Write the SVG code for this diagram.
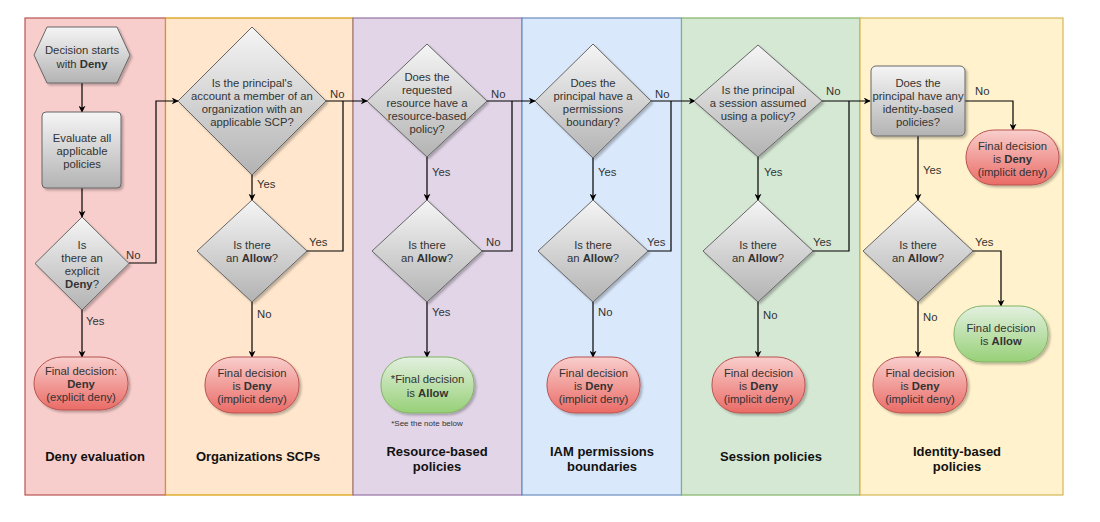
<svg xmlns="http://www.w3.org/2000/svg" width="1100" height="522" viewBox="0 0 1100 522">
  <defs>
    <linearGradient id="gGray" x1="0" y1="0" x2="0" y2="1">
      <stop offset="0" stop-color="#f5f5f5"/>
      <stop offset="1" stop-color="#b3b3b3"/>
    </linearGradient>
    <linearGradient id="gRed" x1="0" y1="0" x2="0" y2="1">
      <stop offset="0" stop-color="#f8cecc"/>
      <stop offset="1" stop-color="#ea6b66"/>
    </linearGradient>
    <linearGradient id="gGreen" x1="0" y1="0" x2="0" y2="1">
      <stop offset="0" stop-color="#e3f0e0"/>
      <stop offset="1" stop-color="#97d077"/>
    </linearGradient>
    <filter id="shadow" x="-20%" y="-20%" width="140%" height="140%">
      <feDropShadow dx="2" dy="2" stdDeviation="1.2" flood-color="#000" flood-opacity="0.25"/>
    </filter>
    <marker id="arrow" viewBox="0 0 10 10" refX="9" refY="5" markerWidth="7" markerHeight="7" markerUnits="userSpaceOnUse" orient="auto">
      <path d="M0,0 L10,5 L0,10 L3,5 Z" fill="#000"/>
    </marker>
  </defs>
  <style>
    text { font-family: "Liberation Sans", Arial, sans-serif; }
    .lane { stroke-width: 1.2; }
    .gray { fill: url(#gGray); stroke: #666666; stroke-width: 1; filter: url(#shadow); }
    .red { fill: url(#gRed); stroke: #b85450; stroke-width: 1; filter: url(#shadow); }
    .green { fill: url(#gGreen); stroke: #82b366; stroke-width: 1; filter: url(#shadow); }
    .t { font-size: 11.3px; fill: #333333; text-anchor: middle; }
    .b { font-weight: bold; }
    .lbl { font-size: 11.3px; fill: #333333; }
    .title { font-size: 13px; font-weight: bold; fill: #111111; text-anchor: middle; }
    .note { font-size: 8px; fill: #333333; text-anchor: middle; }
    .edge { fill: none; stroke: #000; stroke-width: 1.2; }
  </style>

  <rect x="0" y="0" width="1100" height="522" fill="#ffffff"/>

  <!-- swimlanes -->
  <g id="lanes">
    <rect class="lane" x="25" y="18" width="140.5" height="477" fill="#f8cecc" stroke="#b85450"/>
    <rect class="lane" x="165.5" y="18" width="187.5" height="477" fill="#ffe6cc" stroke="#d79b00"/>
    <rect class="lane" x="353" y="18" width="169" height="477" fill="#e1d5e7" stroke="#9673a6"/>
    <rect class="lane" x="522" y="18" width="159.5" height="477" fill="#dae8fc" stroke="#6c8ebf"/>
    <rect class="lane" x="681.5" y="18" width="178.5" height="477" fill="#d5e8d4" stroke="#82b366"/>
    <rect class="lane" x="860" y="18" width="203" height="477" fill="#fff2cc" stroke="#d6b656"/>
    <text class="title" x="95" y="461">Deny evaluation</text>
    <text class="title" x="258" y="461">Organizations SCPs</text>
    <text class="title" x="437" y="456">Resource-based</text>
    <text class="title" x="437" y="471">policies</text>
    <text class="title" x="602" y="456">IAM permissions</text>
    <text class="title" x="602" y="471">boundaries</text>
    <text class="title" x="771" y="461">Session policies</text>
    <text class="title" x="957" y="456">Identity-based</text>
    <text class="title" x="957" y="471">policies</text>
  </g>

  <!-- connectors -->
  <g id="connectors">
    <path class="edge" d="M82,83 L82,112" marker-end="url(#arrow)"/>
    <path class="edge" d="M82,188 L82,217" marker-end="url(#arrow)"/>
    <path class="edge" d="M129,263 L156,263 L156,101 L178,101" marker-end="url(#arrow)"/>
    <path class="edge" d="M82,310 L82,357" marker-end="url(#arrow)"/>

    <path class="edge" d="M326,101 L367,101" marker-end="url(#arrow)"/>
    <path class="edge" d="M252,175 L252,200" marker-end="url(#arrow)"/>
    <path class="edge" d="M307,251 L343,251 L343,101"/>
    <path class="edge" d="M252,302 L252,357" marker-end="url(#arrow)"/>

    <path class="edge" d="M487,101 L535,101" marker-end="url(#arrow)"/>
    <path class="edge" d="M427,157 L427,200" marker-end="url(#arrow)"/>
    <path class="edge" d="M482,251 L512,251 L512,101"/>
    <path class="edge" d="M427,302 L427,357" marker-end="url(#arrow)"/>

    <path class="edge" d="M651,101 L695,101" marker-end="url(#arrow)"/>
    <path class="edge" d="M593,158 L593,200" marker-end="url(#arrow)"/>
    <path class="edge" d="M648,251 L671,251 L671,101"/>
    <path class="edge" d="M593,302 L593,357" marker-end="url(#arrow)"/>

    <path class="edge" d="M822,101 L870,101" marker-end="url(#arrow)"/>
    <path class="edge" d="M758,157 L758,200" marker-end="url(#arrow)"/>
    <path class="edge" d="M813,251 L849,251 L849,101"/>
    <path class="edge" d="M758,302 L758,357" marker-end="url(#arrow)"/>

    <path class="edge" d="M965,101 L1013,101 L1013,130" marker-end="url(#arrow)"/>
    <path class="edge" d="M918,136 L918,200" marker-end="url(#arrow)"/>
    <path class="edge" d="M973,251 L1001,251 L1001,306" marker-end="url(#arrow)"/>
    <path class="edge" d="M918,302 L918,357" marker-end="url(#arrow)"/>

    <text class="lbl" x="126" y="259">No</text>
    <text class="lbl" x="86" y="325">Yes</text>
    <text class="lbl" x="330" y="98">No</text>
    <text class="lbl" x="257" y="188">Yes</text>
    <text class="lbl" x="309" y="246">Yes</text>
    <text class="lbl" x="257" y="318">No</text>
    <text class="lbl" x="491" y="98">No</text>
    <text class="lbl" x="432" y="176">Yes</text>
    <text class="lbl" x="486" y="246">No</text>
    <text class="lbl" x="432" y="316">Yes</text>
    <text class="lbl" x="655" y="98">No</text>
    <text class="lbl" x="598" y="176">Yes</text>
    <text class="lbl" x="647" y="246">Yes</text>
    <text class="lbl" x="598" y="316">No</text>
    <text class="lbl" x="826" y="95">No</text>
    <text class="lbl" x="764" y="176">Yes</text>
    <text class="lbl" x="813" y="246">Yes</text>
    <text class="lbl" x="763" y="319">No</text>
    <text class="lbl" x="975" y="95">No</text>
    <text class="lbl" x="923" y="174">Yes</text>
    <text class="lbl" x="975" y="246">Yes</text>
    <text class="lbl" x="923" y="321">No</text>
  </g>

  <!-- Deny evaluation -->
  <g id="start">
    <polygon class="gray" points="34,55 47,27 117,27 130,55 117,83 47,83"/>
    <text class="t" x="82" y="54">Decision starts</text>
    <text class="t" x="82" y="68">with <tspan class="b">Deny</tspan></text>
  </g>
  <g id="evaluate">
    <rect class="gray" x="42" y="112" width="79" height="76" rx="4"/>
    <text class="t" x="82" y="142">Evaluate all</text>
    <text class="t" x="82" y="155">applicable</text>
    <text class="t" x="82" y="168">policies</text>
  </g>
  <g id="explicit-deny">
    <polygon class="gray" points="82,217 129,263.5 82,310 35,263.5"/>
    <text class="t" x="82" y="249">Is</text>
    <text class="t" x="82" y="262">there an</text>
    <text class="t" x="82" y="275">explicit</text>
    <text class="t" x="82" y="288"><tspan class="b">Deny</tspan>?</text>
  </g>
  <g id="final-explicit-deny">
    <rect class="red" x="34" y="357" width="94" height="53" rx="28" ry="26"/>
    <text class="t" x="81" y="375">Final decision:</text>
    <text class="t b" x="81" y="388">Deny</text>
    <text class="t" x="81" y="401">(explicit deny)</text>
  </g>

  <!-- Organizations SCPs -->
  <g id="scp">
    <polygon class="gray" points="252,27 326,101 252,175 178,101"/>
    <text class="t" x="252" y="87">Is the principal's</text>
    <text class="t" x="252" y="100">account a member of an</text>
    <text class="t" x="252" y="113">organization with an</text>
    <text class="t" x="252" y="126">applicable SCP?</text>
  </g>
  <g id="scp-allow">
    <polygon class="gray" points="252,200 307,251 252,302 197,251"/>
    <text class="t" x="252" y="249">Is there</text>
    <text class="t" x="252" y="262">an <tspan class="b">Allow</tspan>?</text>
  </g>
  <g id="scp-deny">
    <rect class="red" x="205" y="357" width="94" height="56" rx="28" ry="27"/>
    <text class="t" x="252" y="377">Final decision</text>
    <text class="t" x="252" y="390">is <tspan class="b">Deny</tspan></text>
    <text class="t" x="252" y="403">(implicit deny)</text>
  </g>

  <!-- Resource-based policies -->
  <g id="resource">
    <polygon class="gray" points="427,44 487,101 427,157 367,101"/>
    <text class="t" x="427" y="81">Does the</text>
    <text class="t" x="427" y="94">requested</text>
    <text class="t" x="427" y="107">resource have a</text>
    <text class="t" x="427" y="120">resource-based</text>
    <text class="t" x="427" y="133">policy?</text>
  </g>
  <g id="resource-allow">
    <polygon class="gray" points="427,200 482,251 427,302 372,251"/>
    <text class="t" x="427" y="249">Is there</text>
    <text class="t" x="427" y="262">an <tspan class="b">Allow</tspan>?</text>
  </g>
  <g id="resource-final-allow">
    <rect class="green" x="381" y="357" width="93" height="56" rx="28" ry="27"/>
    <text class="t" x="427.5" y="383">*Final decision</text>
    <text class="t" x="427.5" y="397">is <tspan class="b">Allow</tspan></text>
    <text class="note" x="427" y="426">*See the note below</text>
  </g>

  <!-- IAM permissions boundaries -->
  <g id="boundary">
    <polygon class="gray" points="593,44 651,101 593,158 535,101"/>
    <text class="t" x="593" y="87">Does the</text>
    <text class="t" x="593" y="100">principal have a</text>
    <text class="t" x="593" y="113">permissions</text>
    <text class="t" x="593" y="126">boundary?</text>
  </g>
  <g id="boundary-allow">
    <polygon class="gray" points="593,200 648,251 593,302 538,251"/>
    <text class="t" x="593" y="249">Is there</text>
    <text class="t" x="593" y="262">an <tspan class="b">Allow</tspan>?</text>
  </g>
  <g id="boundary-deny">
    <rect class="red" x="547" y="357" width="93" height="56" rx="28" ry="27"/>
    <text class="t" x="593.5" y="377">Final decision</text>
    <text class="t" x="593.5" y="390">is <tspan class="b">Deny</tspan></text>
    <text class="t" x="593.5" y="403">(implicit deny)</text>
  </g>

  <!-- Session policies -->
  <g id="session">
    <polygon class="gray" points="758,45 822,101 758,157 694,101"/>
    <text class="t" x="758" y="94">Is the principal</text>
    <text class="t" x="758" y="107">a session assumed</text>
    <text class="t" x="758" y="120">using a policy?</text>
  </g>
  <g id="session-allow">
    <polygon class="gray" points="758,200 813,251 758,302 703,251"/>
    <text class="t" x="758" y="249">Is there</text>
    <text class="t" x="758" y="262">an <tspan class="b">Allow</tspan>?</text>
  </g>
  <g id="session-deny">
    <rect class="red" x="712" y="357" width="93" height="56" rx="28" ry="27"/>
    <text class="t" x="758.5" y="377">Final decision</text>
    <text class="t" x="758.5" y="390">is <tspan class="b">Deny</tspan></text>
    <text class="t" x="758.5" y="403">(implicit deny)</text>
  </g>

  <!-- Identity-based policies -->
  <g id="identity">
    <rect class="gray" x="871" y="66" width="94" height="70" rx="5"/>
    <text class="t" x="918" y="87">Does the</text>
    <text class="t" x="918" y="100">principal have any</text>
    <text class="t" x="918" y="113">identity-based</text>
    <text class="t" x="918" y="126">policies?</text>
  </g>
  <g id="identity-none-deny">
    <rect class="red" x="966" y="130" width="93" height="55" rx="28" ry="27"/>
    <text class="t" x="1012.5" y="150">Final decision</text>
    <text class="t" x="1012.5" y="163">is <tspan class="b">Deny</tspan></text>
    <text class="t" x="1012.5" y="176">(implicit deny)</text>
  </g>
  <g id="identity-allow">
    <polygon class="gray" points="918,200 973,251 918,302 863,251"/>
    <text class="t" x="918" y="249">Is there</text>
    <text class="t" x="918" y="262">an <tspan class="b">Allow</tspan>?</text>
  </g>
  <g id="identity-final-allow">
    <rect class="green" x="954" y="306" width="94" height="56" rx="28" ry="27"/>
    <text class="t" x="1001" y="332">Final decision</text>
    <text class="t" x="1001" y="345">is <tspan class="b">Allow</tspan></text>
  </g>
  <g id="identity-deny">
    <rect class="red" x="873" y="357" width="94" height="56" rx="28" ry="27"/>
    <text class="t" x="920" y="377">Final decision</text>
    <text class="t" x="920" y="390">is <tspan class="b">Deny</tspan></text>
    <text class="t" x="920" y="403">(implicit deny)</text>
  </g>
</svg>
